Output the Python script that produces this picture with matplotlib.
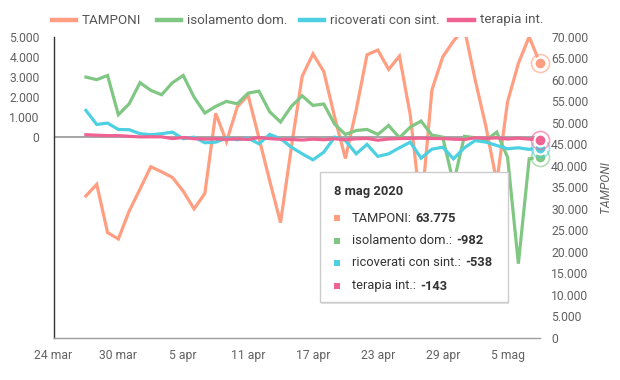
import pandas as pd
import numpy as np
import matplotlib
matplotlib.use('Agg')
import matplotlib.pyplot as plt
from matplotlib.lines import Line2D
from matplotlib.patches import Rectangle

plt.rcParams['font.family'] = ['Roboto', 'DejaVu Sans']

# variazioni giornaliere, dal 27 marzo all'8 maggio 2020
giorni = pd.date_range('2020-03-27', '2020-05-08', freq='D')

tamponi = [33000, 35700, 24500, 23000, 29500, 34600, 39800, 38600, 37300, 34100,
           30000, 33600, 52200, 45600, 53700, 56400, 46500, 36500, 26800, 44300,
           60800, 66000, 61900, 51400, 41700, 53000, 65800, 66900, 62400, 65500,
           51800, 29500, 57600, 65300, 69000, 72000, 60000, 49100, 36200, 54900,
           63800, 70000, 63775]

isolamento = [2990, 2860, 3070, 1115, 1660, 2710, 2330, 2110, 2710, 3070,
              1990, 1200, 1530, 1780, 1660, 2190, 2290, 1260, 750, 1530,
              2060, 1580, 1650, 650, 135, 330, 384, 135, 580, -30,
              500, 800, 100, 0, -2300, 40, -30, -160, 250, -1000,
              -6300, -1080, -982]

ricoverati = [1330, 630, 700, 380, 370, 170, 120, 170, 250, -80,
              0, -280, -250, -50, -130, -50, -330, 135, -80, -500,
              -830, -1130, -750, 0, -170, -830, -360, -960, -830, -530,
              -250, -1045, -600, -500, -1080, -530, -170, -250, -415, -580,
              -530, -610, -538]

terapia = [120, 97, 75, 76, 42, 12, 18, 15, -74, -17,
           -79, -99, -88, -108, -88, -116, -21, -74, -106, -116,
           -143, -102, -129, -84, -127, -85, -65, -153, -93, -71,
           -61, -53, -68, -70, -101, -117, -32, -61, -39, -94,
           -52, -101, -143]

nomi = ['TAMPONI', 'isolamento dom.', 'ricoverati con sint.', 'terapia int.']
colori = ['#ff9e80', '#81c784', '#4dd0e1', '#f06292']

tick_date = pd.date_range('2020-03-24', periods=8, freq='6D')
tick_lab = ['24 mar', '30 mar', '5 apr', '11 apr', '17 apr', '23 apr', '29 apr', '5 mag']
sx_ticks = [0, 1000, 2000, 3000, 4000, 5000]
dx_ticks = list(range(0, 70001, 5000))

W, H = 620, 380
def fx(x):
    return x / W
def fy(y):
    return 1 - y / H

def it(v):
    return f'{v:,.0f}'.replace(',', '.')

grigio = '#616161'

fig = plt.figure(figsize=(W / 100, H / 100), dpi=100)
ax = fig.add_axes([fx(53.5), fy(338), fx(540) - fx(53.5), fy(36.7) - fy(338)])
ax2 = ax.twinx()
ax.set_zorder(ax2.get_zorder() + 1)
ax.patch.set_visible(False)

# asse destro: tamponi
ax2.plot(giorni, tamponi, color=colori[0], lw=2.3, solid_joinstyle='miter', clip_on=True)
ax2.set_ylim(0, 70000)

# asse sinistro
ax.axhline(0, color='#9e9e9e', lw=1.3, zorder=1)
for serie, c in zip([isolamento, ricoverati, terapia], colori[1:]):
    ax.plot(giorni, serie, color=c, lw=2.3, solid_joinstyle='miter', zorder=2)
ax.set_ylim(-10000, 5000)
ax.set_xlim(pd.Timestamp('2020-03-24'), pd.Timestamp('2020-05-08'))

# punti evidenziati (8 maggio)
ultimo = giorni[-1]
ax2.plot([ultimo], [tamponi[-1]], 'o', ms=13, mfc='none', mec=colori[0], mew=1.2, alpha=0.6, clip_on=False)
ax2.plot([ultimo], [tamponi[-1]], 'o', ms=8.5, mfc=colori[0], mec='white', mew=1.5, clip_on=False)
for serie, c in zip([isolamento, ricoverati, terapia], colori[1:]):
    ax.plot([ultimo], [serie[-1]], 'o', ms=13, mfc='none', mec=c, mew=1.2, alpha=0.6, clip_on=False, zorder=3)
    ax.plot([ultimo], [serie[-1]], 'o', ms=8.5, mfc=c, mec='white', mew=1.5, clip_on=False, zorder=3)

ax.set_xticks(tick_date)
ax.set_xticklabels(tick_lab)
ax.set_yticks(sx_ticks)
ax.set_yticklabels([it(v) for v in sx_ticks])
ax2.set_yticks(dx_ticks)
ax2.set_yticklabels([it(v) for v in dx_ticks])

ax.tick_params(axis='both', length=0, labelsize=8.7, colors=grigio)
ax.tick_params(axis='y', pad=10)
ax.tick_params(axis='x', pad=8)
ax2.tick_params(axis='y', length=0, labelsize=8.7, colors=grigio, pad=8)

for a in (ax, ax2):
    for s in a.spines.values():
        s.set_visible(False)
ax.spines['left'].set_visible(True)
ax.spines['left'].set_color('#333333')
ax.spines['left'].set_linewidth(1.0)
ax.spines['bottom'].set_visible(True)
ax.spines['bottom'].set_color('#9e9e9e')
ax.spines['bottom'].set_linewidth(1.0)

fig.text(fx(605), fy(187), 'TAMPONI', rotation=90, style='italic', fontsize=8.7,
         color=grigio, ha='center', va='center')

# legenda in alto
leg_x = [(52, 76, 82), (157, 181, 187), (300, 324, 330), (449, 474, 480)]
for (x0, x1, xt), nome, c in zip(leg_x, nomi, colori):
    fig.add_artist(Line2D([fx(x0), fx(x1)], [fy(20), fy(20)], color=c, lw=3.2))
    fig.text(fx(xt), fy(20), nome, fontsize=9.6, color='#555555', va='center', ha='left')

# tooltip
bx0, by0, bx1, by1 = 320, 172, 508, 302
fig.add_artist(Rectangle((fx(bx0 + 1), fy(by1 + 2)), fx(bx1 - bx0), fy(by0) - fy(by1),
                         facecolor='#000000', alpha=0.12, edgecolor='none', zorder=9))
fig.add_artist(Rectangle((fx(bx0), fy(by1)), fx(bx1 - bx0), fy(by0) - fy(by1),
                         facecolor='white', edgecolor='#cccccc', lw=1.0, zorder=10))
fig.text(fx(334), fy(191), '8 mag 2020', fontsize=9.3, fontweight='bold', color='#333333',
         va='center', ha='left', zorder=11)

valori = [tamponi[-1], isolamento[-1], ricoverati[-1], terapia[-1]]
righe_y = [218, 241, 263, 286]
fig.canvas.draw()
renderer = fig.canvas.get_renderer()
for nome, c, v, yy in zip(nomi, colori, valori, righe_y):
    fig.add_artist(Rectangle((fx(334), fy(yy + 3)), fx(6), fy(yy - 3) - fy(yy + 3),
                             facecolor=c, edgecolor='none', zorder=11))
    t = fig.text(fx(352), fy(yy), nome + ':', fontsize=9.3, color='#333333',
                 va='center', ha='left', zorder=11)
    bb = t.get_window_extent(renderer)
    fig.text(fx(bb.x1 + 4), fy(yy), it(v), fontsize=9.3, fontweight='bold', color='#333333',
             va='center', ha='left', zorder=11)

fig.savefig('out.png', dpi=100)
